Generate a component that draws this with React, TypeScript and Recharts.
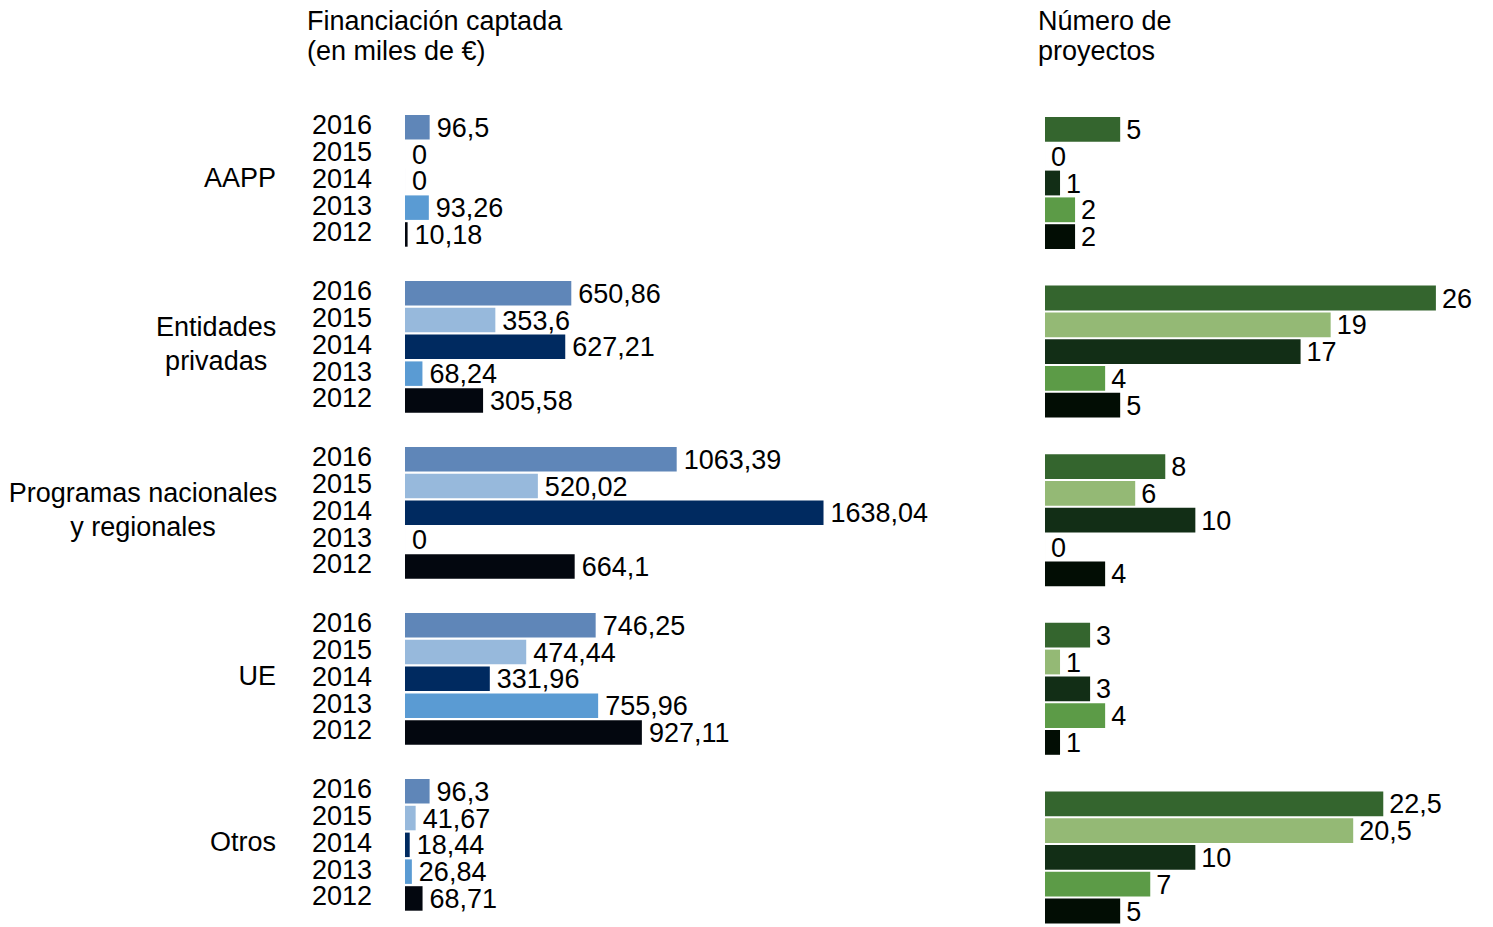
import React from "react";
import { BarChart, Bar, XAxis, YAxis, LabelList } from "recharts";

const categories = ["AAPP", "Entidades privadas", "Programas nacionales y regionales", "UE", "Otros"];
const categoryLines = [["AAPP"], ["Entidades", "privadas"], ["Programas nacionales", "y regionales"], ["UE"], ["Otros"]];
const years = ["2016", "2015", "2014", "2013", "2012"];

const fin2016 = [96.5, 650.86, 1063.39, 746.25, 96.3];
const fin2015 = [0, 353.6, 520.02, 474.44, 41.67];
const fin2014 = [0, 627.21, 1638.04, 331.96, 18.44];
const fin2013 = [93.26, 68.24, 0, 755.96, 26.84];
const fin2012 = [10.18, 305.58, 664.1, 927.11, 68.71];

const proj2016 = [5, 26, 8, 3, 22.5];
const proj2015 = [0, 19, 6, 1, 20.5];
const proj2014 = [1, 17, 10, 3, 10];
const proj2013 = [2, 4, 0, 4, 7];
const proj2012 = [2, 5, 4, 1, 5];

const finColors = ["#5f86b8", "#97b9dc", "#002a60", "#5a9bd3", "#03070f"];
const projColors = ["#34652e", "#94b975", "#122e16", "#5c9b47", "#020d04"];

const finSeries = [fin2016, fin2015, fin2014, fin2013, fin2012];
const projSeries = [proj2016, proj2015, proj2014, proj2013, proj2012];

const finData = categories.map((c, i) => {
  const row: any = { cat: c, idx: i };
  years.forEach((y, k) => (row["y" + y] = finSeries[k][i]));
  return row;
});
const projData = categories.map((c, i) => {
  const row: any = { cat: c, idx: i };
  years.forEach((y, k) => (row["y" + y] = projSeries[k][i]));
  return row;
});

const FONT = "'Liberation Sans', Arial, sans-serif";
const FS = 27;
const fmt = (v: any) => String(v).replace(".", ",");

const CategoryTick = (props: any) => {
  const { y, payload } = props;
  const idx = categories.indexOf(payload.value);
  const lines = categoryLines[idx] || [payload.value];
  const right = 276;
  if (lines.length === 1) {
    return (
      <text x={right} y={y - 3} textAnchor="end" dominantBaseline="central" fontSize={FS} fill="#000">
        {lines[0]}
      </text>
    );
  }
  const maxLen = Math.max(...lines.map((l) => l.length));
  const cx = right - (maxLen * 13.3) / 2;
  const lh = 34;
  return (
    <g>
      {lines.map((l, i) => (
        <text key={i} x={cx} y={y - 3 + (i - (lines.length - 1) / 2) * lh} textAnchor="middle" dominantBaseline="central" fontSize={FS} fill="#000">
          {l}
        </text>
      ))}
    </g>
  );
};

const yearLabel = (year: string) => (p: any) => {
  const vb = p.viewBox ?? p;
  const x = vb.x ?? p.x;
  const y = vb.y ?? p.y;
  const h = vb.height ?? p.height;
  return (
    <text x={x - 33} y={y + h / 2 - 2} textAnchor="end" dominantBaseline="central" fontSize={FS} fill="#000">
      {year}
    </text>
  );
};

export default function App() {
  return (
    <div style={{ position: "absolute", left: 0, top: 0, width: 1493, height: 927, overflow: "hidden", background: "#fff", fontFamily: FONT }}>
      <div style={{ position: "absolute", left: 307, top: 6, fontSize: 27, lineHeight: "30px", color: "#000" }}>
        Financiación captada
        <br />
        (en miles de €)
      </div>
      <div style={{ position: "absolute", left: 1038, top: 6, fontSize: 27, lineHeight: "30px", color: "#000" }}>
        Número de
        <br />
        proyectos
      </div>
      <div style={{ position: "absolute", left: 0, top: 0 }}>
        <BarChart
          width={1000}
          height={928}
          data={finData}
          layout="vertical"
          margin={{ top: 98, right: 84, bottom: 0, left: 0 }}
          barSize={24.5}
          barGap={2.3}
        >
          <XAxis type="number" domain={[0, 2000]} hide />
          <YAxis type="category" dataKey="cat" width={405} axisLine={false} tickLine={false} tick={<CategoryTick />} interval={0} />
          {years.map((y, k) => (
            <Bar key={y} dataKey={"y" + y} fill={finColors[k]} minPointSize={0.01} isAnimationActive={false}>
              <LabelList dataKey={"y" + y} position="right" offset={7} formatter={fmt} fill="#000" fontSize={FS} />
              <LabelList dataKey={"y" + y} content={yearLabel(y)} />
            </Bar>
          ))}
        </BarChart>
      </div>
      <div style={{ position: "absolute", left: 1000, top: 0 }}>
        <BarChart
          width={493}
          height={942}
          data={projData}
          layout="vertical"
          margin={{ top: 99, right: 12, bottom: 0, left: 45 }}
          barSize={24.8}
          barGap={2}
        >
          <XAxis type="number" domain={[0, 29]} hide />
          <YAxis type="category" dataKey="cat" hide />
          {years.map((y, k) => (
            <Bar key={y} dataKey={"y" + y} fill={projColors[k]} minPointSize={0.01} isAnimationActive={false}>
              <LabelList dataKey={"y" + y} position="right" offset={6} formatter={fmt} fill="#000" fontSize={FS} />
            </Bar>
          ))}
        </BarChart>
      </div>
    </div>
  );
}
